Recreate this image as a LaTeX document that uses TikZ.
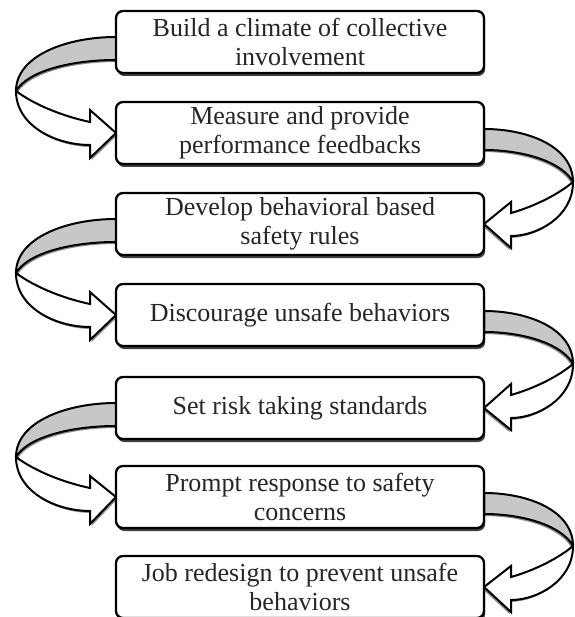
\documentclass[tikz,border=0pt]{standalone}
\usepackage{fontspec}
\setmainfont{Liberation Serif}
\usetikzlibrary{shadows}
\tikzset{
  box/.style={draw=black, line width=2.3pt, rounded corners=7pt, fill=white,
    minimum width=368pt, minimum height=62pt, align=center, inner sep=0pt, outer sep=0pt,
    font=\fontsize{26}{29}\selectfont, text=black!85,
    drop shadow={shadow xshift=1.2pt, shadow yshift=-3pt, opacity=1, fill=black!75}},
  band/.style={fill=black!22, draw=black, line width=2pt, line join=round,
    drop shadow={shadow xshift=#1, shadow yshift=-2pt, opacity=1, fill=black!45}},
  ribbon/.style={fill=white, draw=black, line width=2pt, line join=miter,
    drop shadow={shadow xshift=#1, shadow yshift=-2pt, opacity=1, fill=black!45}},
}
\newcommand\leftribbon[2]{%
  \begin{scope}[shift={(#1.north west)}]
    \path[band=1.5pt] (0,26) .. controls (-50,26) and (-100,45) .. (-100,80)
      .. controls (-88,60) and (-45,49) .. (0,49) -- cycle;
    \path[ribbon=1.5pt] (-100,80) .. controls (-80,95) and (-50,106) .. (-26,111)
      -- (-26,99) -- (#2.west) -- (-26,147) -- (-26,134)
      .. controls (-60,134) and (-100,115) .. (-100,80) -- cycle;
  \end{scope}}
\newcommand\rightribbon[2]{%
  \begin{scope}[shift={(#1.north east)}, xscale=-1]
    \path[band=-1.5pt] (0,27) .. controls (-45,27) and (-89,45) .. (-89,80)
      .. controls (-78,60) and (-40,48) .. (0,48) -- cycle;
    \path[ribbon=-1.5pt] (-89,80) .. controls (-71,95) and (-45,106) .. (-27,111)
      -- (-27,100) -- (#2.east) -- (-27,146) -- (-27,134)
      .. controls (-53,134) and (-89,115) .. (-89,80) -- cycle;
  \end{scope}}
\begin{document}
\begin{tikzpicture}[x=1pt, y=-1pt]
  \path[use as bounding box] (0,0) rectangle (574,617);
  \clip (0,0) rectangle (574,617);
  \fill[white] (0,0) rectangle (574,617);
  \path
    (300,42)  coordinate (p1)
    (300,133) coordinate (p2)
    (300,224) coordinate (p3)
    (300,315) coordinate (p4)
    (300,408) coordinate (p5)
    (300,497) coordinate (p6)
    (300,587) coordinate (p7);
  \path (p1) node[minimum width=368pt, minimum height=62pt, outer sep=0pt, inner sep=0pt] (a1) {}
        (p2) node[minimum width=368pt, minimum height=62pt, outer sep=0pt, inner sep=0pt] (a2) {}
        (p3) node[minimum width=368pt, minimum height=62pt, outer sep=0pt, inner sep=0pt] (a3) {}
        (p4) node[minimum width=368pt, minimum height=62pt, outer sep=0pt, inner sep=0pt] (a4) {}
        (p5) node[minimum width=368pt, minimum height=62pt, outer sep=0pt, inner sep=0pt] (a5) {}
        (p6) node[minimum width=368pt, minimum height=62pt, outer sep=0pt, inner sep=0pt] (a6) {}
        (p7) node[minimum width=368pt, minimum height=62pt, outer sep=0pt, inner sep=0pt] (a7) {};
  \leftribbon{a1}{a2}
  \rightribbon{a2}{a3}
  \leftribbon{a3}{a4}
  \rightribbon{a4}{a5}
  \leftribbon{a5}{a6}
  \rightribbon{a6}{a7}
  \node[box] (b1) at (p1) {Build a climate of collective\\involvement};
  \node[box] (b2) at (p2) {Measure and provide\\performance feedbacks};
  \node[box] (b3) at (p3) {Develop behavioral based\\safety rules};
  \node[box] (b4) at (p4) {Discourage unsafe behaviors};
  \node[box] (b5) at (p5) {Set risk taking standards};
  \node[box] (b6) at (p6) {Prompt response to safety\\concerns};
  \node[box] (b7) at (p7) {Job redesign to prevent unsafe\\behaviors};
\end{tikzpicture}
\end{document}
